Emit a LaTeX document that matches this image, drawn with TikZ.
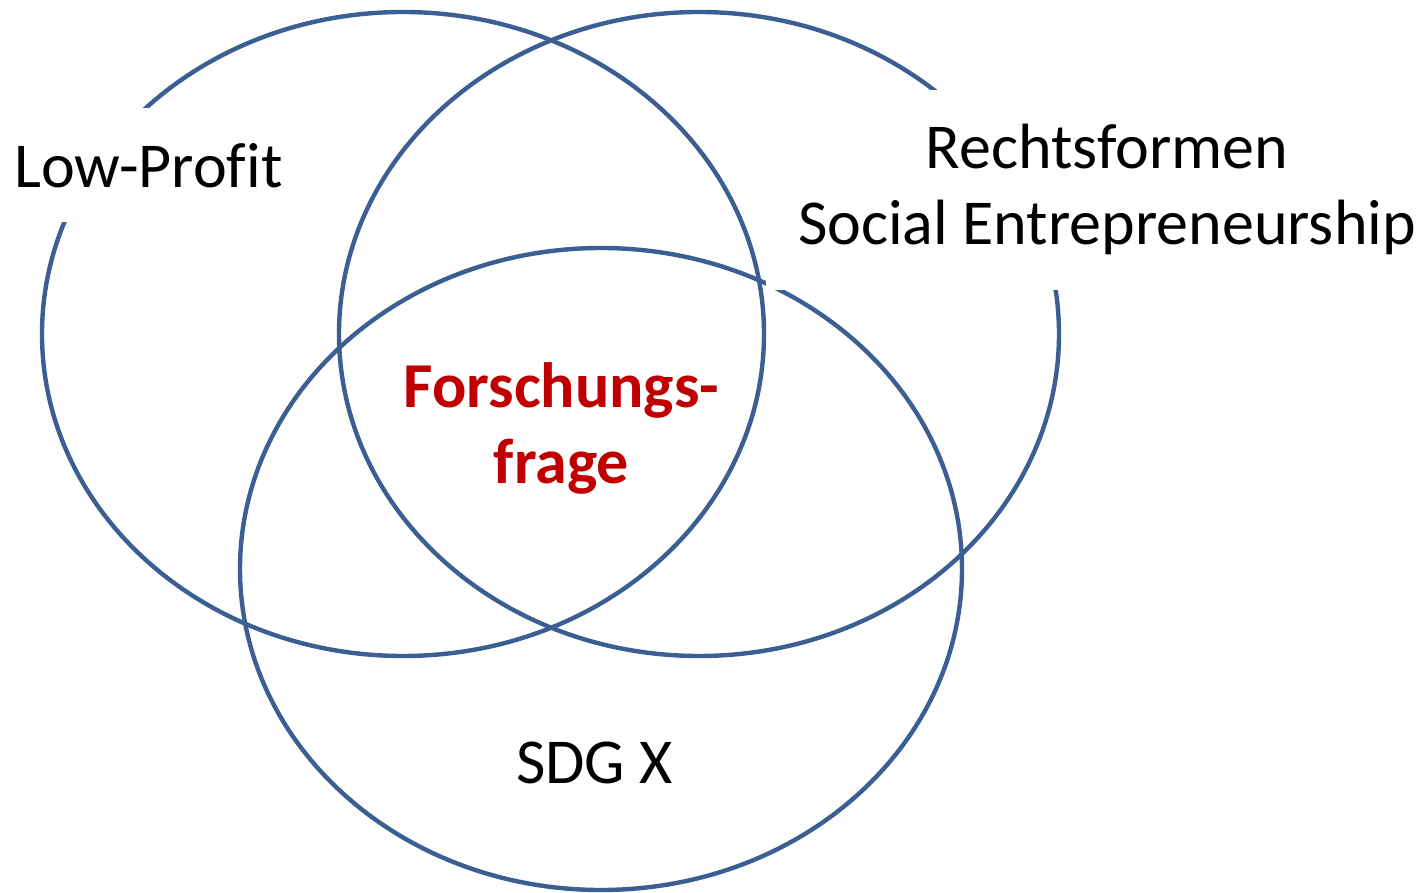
\documentclass[tikz,border=0pt]{standalone}
\usepackage{fontspec}
\setmainfont{Carlito}[Ligatures=NoCommon]
\definecolor{ringblue}{HTML}{3B5F93}
\definecolor{qred}{HTML}{C00000}
\tikzset{
  ring/.style={draw=ringblue, line width=4.4pt},
  mask/.style={fill=white, draw=none},
  lbl/.style={inner sep=0pt, font=\fontsize{64}{76}\selectfont, align=center, anchor=base},
  qlbl/.style={lbl, text=qred, font=\fontsize{64}{76}\selectfont\bfseries}
}
\begin{document}
\begin{tikzpicture}[x=1pt,y=-1pt]
\useasboundingbox (0,0) rectangle (1422,893);
\fill[white] (0,0) rectangle (1422,893);
\draw[ring] (403,334) ellipse [x radius=361, y radius=322];
\draw[ring] (699,334) ellipse [x radius=360, y radius=322];
\draw[ring] (601,569) ellipse [x radius=361, y radius=321];
\path[mask] (0,108) rectangle (292,222);
\path[mask] (766,90) rectangle (1422,290);
\node[lbl] (lowprofit) at (148.5,188) {Low-Profit};
\node[lbl] (rechts) at (1107,245) {Rechtsformen\\Social Entrepreneurship};
\node[qlbl] (frage) at (561.5,483) {Forschungs-\\frage};
\node[lbl] (sdg) at (594.5,783) {SDG X};
\end{tikzpicture}
\end{document}
